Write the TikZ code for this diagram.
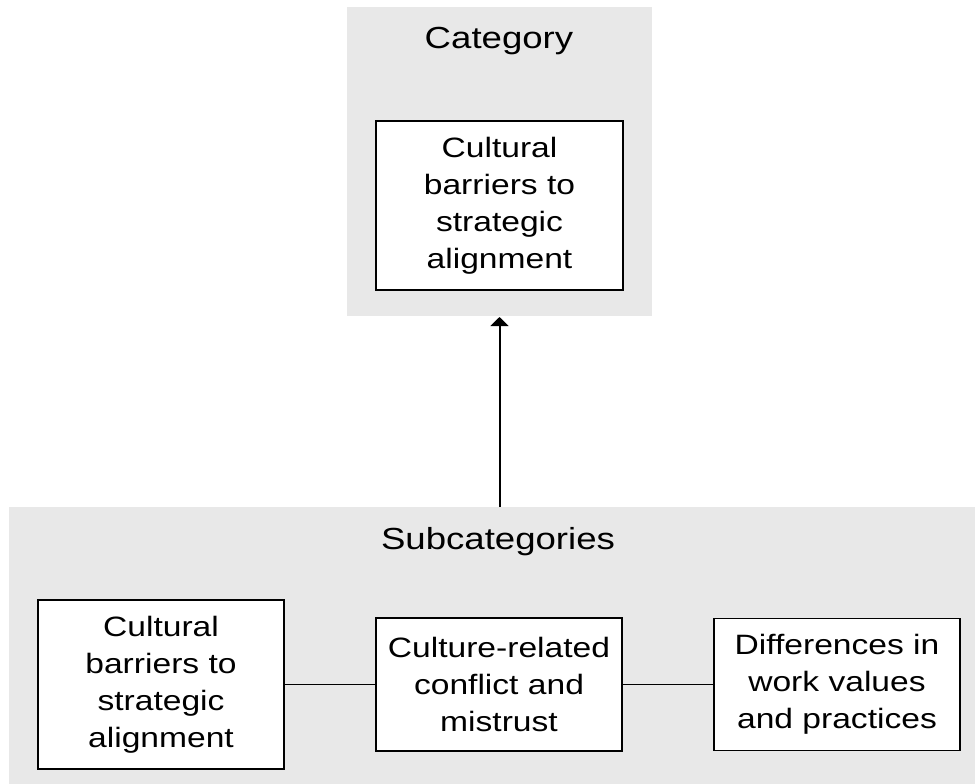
\documentclass[tikz,border=0pt]{standalone}
\usepackage{fontspec}
\setmainfont[FakeStretch=1.2]{Liberation Sans}
\usetikzlibrary{arrows.meta}
\definecolor{panel}{HTML}{E8E8E8}
\tikzset{
  panelbox/.style={fill=panel, draw=none, inner sep=0pt, outer sep=0pt},
  itembox/.style={draw=black, fill=white, line width=1.8pt, inner sep=0pt, align=center,
    font=\fontsize{28}{37}\selectfont, text width=240pt},
  heading/.style={anchor=base, inner sep=0pt, font=\fontsize{30.5}{35}\selectfont},
  link/.style={line width=1.5pt},
}
\begin{document}
\begin{tikzpicture}[x=1pt,y=-1pt]
\useasboundingbox (0,0) rectangle (975,784);
\node[panelbox, minimum width=305pt, minimum height=309pt] (toppanel) at (499.5,161.5) {};
\node[panelbox, minimum width=966pt, minimum height=277pt] (botpanel) at (492,645.5) {};
\node[heading] (cat) at (499,49) {Category};
\node[heading] (sub) at (498,549) {Subcategories};
\node[itembox, minimum width=247pt, minimum height=169pt] (main) at (499.5,205.5)
  {Cultural\\barriers to\\strategic\\alignment};
\node[itembox, minimum width=246pt, minimum height=169pt] (left) at (161,684.5)
  {Cultural\\barriers to\\strategic\\alignment};
\node[itembox, minimum width=246pt, minimum height=133pt] (mid) at (499,684.5)
  {Culture-related\\conflict and\\mistrust};
\node[itembox, minimum width=246pt, minimum height=132pt] (right) at (837,684.5)
  {Differences in\\work values\\and practices};
\draw[link] (left.east) -- (mid.west);
\draw[link] (mid.east) -- (right.west);
\draw[line width=2pt, -{Triangle[width=18pt,length=9pt]}] (botpanel.north -| main.south) -- ([yshift=-1pt]toppanel.south -| main.south);
\end{tikzpicture}
\end{document}
